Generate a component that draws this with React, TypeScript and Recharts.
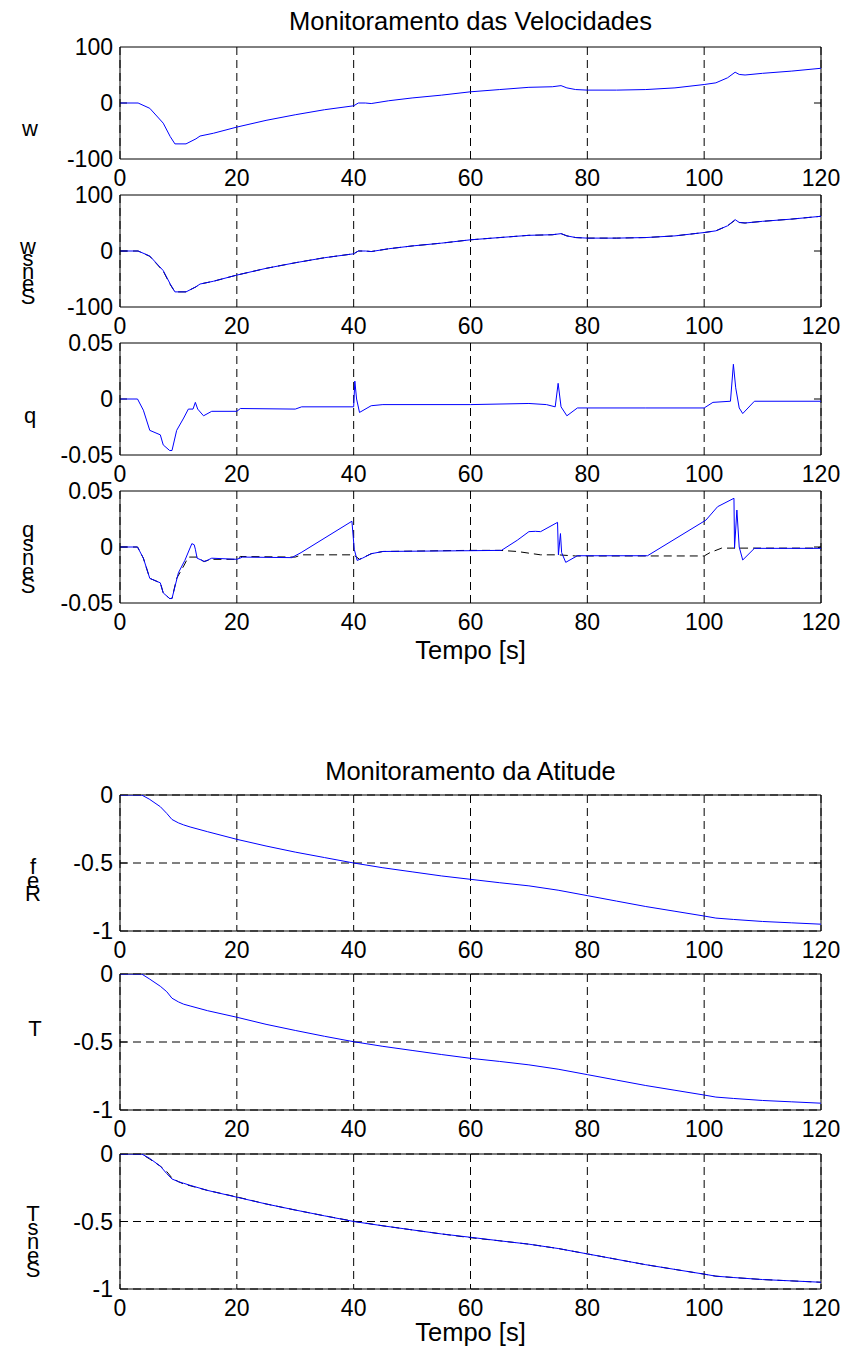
import * as React from 'react';
import { CartesianGrid, Line, LineChart, ReferenceLine, XAxis, YAxis } from 'recharts';

// time axis ticks shared by every panel
const timeTicks = [0, 20, 40, 60, 80, 100, 120];
const velTicks = [-100, 0, 100];
const rateTicks = [-0.05, 0, 0.05];
const attTicks = [-1, -0.5, 0];

// w (velocidade vertical)
const wTime = [0, 3.1, 5.1, 7.4, 8.6, 9.4, 11.3, 13, 13.7, 16, 20, 25, 30, 35, 40, 40.8, 42, 43, 46, 50, 55, 60, 65, 70, 74, 75.5, 76.5, 78, 80, 85, 90, 95, 100, 102, 104, 105.3, 106, 107, 110, 115, 120];
const wValues = [0, 0, -9.5, -36, -60, -73, -73, -64, -59, -54, -43, -31, -21, -12, -5, 0, 0, -1, 4, 9, 14, 20, 24, 28, 29, 31, 27, 24, 23, 23, 24, 27, 33, 36, 45, 55, 51, 50, 53, 57, 62];
const wSensValues = [0, 0, -9, -35, -59, -73, -73, -64, -59, -54, -43, -31, -21, -12, -5, 0, 0, -1, 4, 9, 14, 20, 24, 28, 29, 31, 27, 24, 23, 23, 24, 27, 33, 36, 45, 56, 51, 50, 53, 57, 62];

// q (taxa de arfagem)
const qTime = [0, 3, 4, 5.1, 6.9, 7.4, 8.5, 8.9, 9.7, 10.9, 11.7, 12.5, 12.9, 13.3, 14.3, 15.7, 20, 20.6, 30, 31.1, 40, 40.2, 40.5, 41, 43, 45, 60, 70, 73, 74.5, 75, 75.5, 76.5, 78.3, 80, 90, 100, 101.5, 104.5, 105, 105.4, 106, 106.6, 108.6, 120];
const qValues = [0, 0, -0.01, -0.028, -0.032, -0.041, -0.046, -0.046, -0.028, -0.017, -0.009, -0.009, -0.003, -0.009, -0.015, -0.011, -0.011, -0.0085, -0.009, -0.007, -0.007, 0.016, 0.0, -0.012, -0.006, -0.005, -0.005, -0.004, -0.005, -0.007, 0.014, -0.007, -0.015, -0.008, -0.008, -0.008, -0.008, -0.003, -0.002, 0.031, 0.01, -0.008, -0.013, -0.002, -0.002];

// q de referência (tracejado do quarto gráfico)
const qRefTime = [0, 3, 4, 5.1, 6.9, 7.4, 8.5, 8.9, 9.7, 10.9, 11.7, 12.5, 13.3, 14.3, 15.7, 20, 20.6, 30, 31.1, 40, 41, 43, 45, 60, 65, 68, 72, 75, 78, 80, 100, 101, 103, 119, 120];
const qRefValues = [0, 0, -0.01, -0.028, -0.032, -0.041, -0.046, -0.046, -0.028, -0.017, -0.009, -0.009, -0.009, -0.013, -0.011, -0.011, -0.0085, -0.009, -0.007, -0.007, -0.011, -0.006, -0.004, -0.003, -0.003, -0.004, -0.007, -0.007, -0.008, -0.008, -0.008, -0.005, -0.001, -0.001, 0];

// q medido (sensor)
const qSensTime = [0, 3, 4, 5.1, 6.9, 7.4, 8.5, 8.9, 10, 11.1, 12.3, 12.7, 12.9, 13.2, 14.5, 15.7, 20, 21, 29.4, 31, 39.7, 40.1, 40.6, 41.5, 43, 45, 60, 65.3, 68, 70, 71.1, 72, 74.9, 75.05, 75.4, 75.6, 76.3, 78.3, 90.3, 100.3, 102.3, 105.1, 105.2, 105.6, 106, 106.6, 108.6, 120];
const qSensValues = [0, 0, -0.01, -0.028, -0.032, -0.041, -0.046, -0.046, -0.023, -0.012, 0.003, 0.002, -0.002, -0.01, -0.013, -0.01, -0.011, -0.009, -0.0095, -0.005, 0.023, -0.002, -0.012, -0.01, -0.006, -0.004, -0.0033, -0.003, 0.006, 0.0137, 0.014, 0.0137, 0.022, -0.007, 0.012, -0.005, -0.0137, -0.0078, -0.0078, 0.024, 0.036, 0.0435, -0.001, 0.033, 0.0, -0.0116, -0.0012, -0.0012];

// atitude
const attTime = [0, 3.7, 5, 6.9, 8, 8.9, 10, 10.9, 12, 15, 20, 25, 30, 35, 40, 45, 50, 55, 60, 65, 70, 75, 80, 85, 90, 95, 100, 102, 105, 110, 115, 120];
const refValues = [0, 0, -0.03, -0.086, -0.135, -0.18, -0.205, -0.22, -0.235, -0.27, -0.326, -0.375, -0.42, -0.46, -0.5, -0.535, -0.565, -0.595, -0.62, -0.645, -0.668, -0.7, -0.74, -0.78, -0.82, -0.855, -0.89, -0.905, -0.915, -0.93, -0.94, -0.95];
const thetaValues = [0, 0, -0.035, -0.09, -0.13, -0.178, -0.205, -0.222, -0.235, -0.27, -0.318, -0.37, -0.415, -0.458, -0.498, -0.532, -0.562, -0.592, -0.62, -0.643, -0.668, -0.7, -0.74, -0.78, -0.82, -0.855, -0.89, -0.905, -0.915, -0.93, -0.94, -0.95];
const thetaSensValues = [0, 0, -0.03, -0.09, -0.145, -0.185, -0.205, -0.217, -0.232, -0.27, -0.32, -0.37, -0.415, -0.458, -0.5, -0.532, -0.562, -0.592, -0.617, -0.643, -0.668, -0.7, -0.74, -0.78, -0.82, -0.855, -0.89, -0.905, -0.915, -0.93, -0.94, -0.95];

const FONT = '"Liberation Sans", Arial, sans-serif';
const BLUE = '#0000ff';
const MT = 16;
const XH = 40;

type Pt = { t: number; v: number };
const toPts = (ts: number[], vs: number[]): Pt[] => ts.map((t, i) => ({ t, v: vs[i] }));

interface Series {
  data: Pt[];
  color: string;
  dashed?: boolean;
}

interface PanelProps {
  top: number;
  height: number;
  domain: [number, number];
  ticks: number[];
  series: Series[];
  hGrid?: boolean;
}

function Panel({ top, height, domain, ticks, series, hGrid = false }: PanelProps) {
  const mid = ticks[1];
  return (
    <div style={{ position: 'absolute', left: 0, top: top - MT }}>
      <LineChart width={848} height={height + MT + XH} margin={{ top: MT, right: 27, bottom: 0, left: 60 }}>
        <CartesianGrid stroke="#000" strokeDasharray="8 5" horizontal={hGrid} vertical />
        <XAxis
          dataKey="t"
          type="number"
          domain={[0, 120]}
          ticks={timeTicks}
          interval={0}
          height={XH}
          tickSize={0}
          tickMargin={11}
          axisLine={{ stroke: '#000' }}
          tick={{ fill: '#000', fontSize: 23, fontFamily: FONT }}
          allowDataOverflow
        />
        <YAxis
          type="number"
          domain={domain}
          ticks={ticks}
          interval={0}
          width={60}
          tickSize={0}
          tickMargin={7}
          axisLine={{ stroke: '#000' }}
          tick={{ fill: '#000', fontSize: 23, fontFamily: FONT }}
          allowDataOverflow
        />
        <ReferenceLine y={domain[1]} stroke="#000" />
        <ReferenceLine x={120} stroke="#000" />
        <ReferenceLine segment={[{ x: 0, y: mid }, { x: 1.2, y: mid }]} stroke="#000" />
        <ReferenceLine segment={[{ x: 118.8, y: mid }, { x: 120, y: mid }]} stroke="#000" />
        {series.map((s, i) => (
          <Line
            key={i}
            data={s.data}
            dataKey="v"
            type="linear"
            stroke={s.color}
            strokeWidth={1}
            strokeDasharray={s.dashed ? '8 5' : undefined}
            dot={false}
            activeDot={false}
            isAnimationActive={false}
          />
        ))}
      </LineChart>
    </div>
  );
}

// rótulo do eixo y com as letras empilhadas (como no original)
function StackLabel({ chars, x, y, step }: { chars: string[]; x: number; y: number; step: number }) {
  return (
    <>
      {chars.map((c, i) => (
        <div
          key={i}
          style={{
            position: 'absolute',
            left: x - 15,
            top: y + i * step - step / 2,
            width: 30,
            height: step,
            lineHeight: `${step}px`,
            textAlign: 'center',
            fontSize: 22,
            fontFamily: FONT,
            color: '#000',
          }}
        >
          {c}
        </div>
      ))}
    </>
  );
}

function Caption({ text, y, size }: { text: string; y: number; size: number }) {
  return (
    <div
      style={{
        position: 'absolute',
        left: 120,
        width: 701,
        top: y - size / 2,
        height: size,
        lineHeight: 1,
        textAlign: 'center',
        fontSize: size,
        fontFamily: FONT,
        color: '#000',
        whiteSpace: 'nowrap',
      }}
    >
      {text}
    </div>
  );
}

export default function App() {
  const w = toPts(wTime, wValues);
  const wSens = toPts(wTime, wSensValues);
  const q = toPts(qTime, qValues);
  const qRef = toPts(qRefTime, qRefValues);
  const qSens = toPts(qSensTime, qSensValues);
  const ref = toPts(attTime, refValues);
  const theta = toPts(attTime, thetaValues);
  const thetaSens = toPts(attTime, thetaSensValues);

  return (
    <div style={{ position: 'absolute', left: 0, top: 0, width: 848, height: 1346, background: '#fff' }}>
      <Caption text="Monitoramento das Velocidades" y={22} size={25.5} />
      <Panel top={47} height={112} domain={[-100, 100]} ticks={velTicks} series={[{ data: w, color: BLUE }]} />
      <Panel
        top={195}
        height={112}
        domain={[-100, 100]}
        ticks={velTicks}
        series={[{ data: w, color: '#000', dashed: true }, { data: wSens, color: BLUE }]}
      />
      <Panel top={343} height={112} domain={[-0.05, 0.05]} ticks={rateTicks} series={[{ data: q, color: BLUE }]} />
      <Panel
        top={491}
        height={112}
        domain={[-0.05, 0.05]}
        ticks={rateTicks}
        series={[{ data: qRef, color: '#000', dashed: true }, { data: qSens, color: BLUE }]}
      />
      <Caption text="Tempo [s]" y={651} size={25.5} />

      <Caption text="Monitoramento da Atitude" y={772} size={25.5} />
      <Panel top={795} height={136} domain={[-1, 0]} ticks={attTicks} series={[{ data: ref, color: BLUE }]} hGrid />
      <Panel top={974} height={136} domain={[-1, 0]} ticks={attTicks} series={[{ data: theta, color: BLUE }]} hGrid />
      <Panel
        top={1154}
        height={135}
        domain={[-1, 0]}
        ticks={attTicks}
        series={[{ data: theta, color: '#000', dashed: true }, { data: thetaSens, color: BLUE }]}
        hGrid
      />
      <Caption text="Tempo [s]" y={1333} size={25.5} />

      <StackLabel chars={['w']} x={30} y={128} step={13} />
      <StackLabel chars={['w', 's', 'n', 'e', 'S']} x={28} y={247} step={12.5} />
      <StackLabel chars={['q']} x={30} y={415} step={13} />
      <StackLabel chars={['q', 's', 'n', 'e', 'S']} x={28} y={530} step={14} />
      <StackLabel chars={['f', 'e', 'R']} x={33} y={867} step={13.5} />
      <StackLabel chars={['T']} x={35} y={1028} step={13} />
      <StackLabel chars={['T', 's', 'n', 'e', 'S']} x={33} y={1214} step={14} />
    </div>
  );
}
